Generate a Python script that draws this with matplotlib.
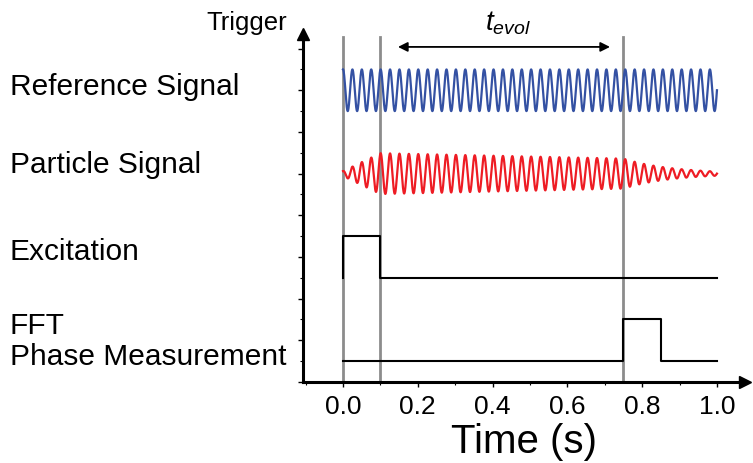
import matplotlib
matplotlib.use("Agg")
import matplotlib.pyplot as plt
import matplotlib.transforms as mtransforms
from matplotlib.ticker import MultipleLocator
import numpy as np

plt.rcParams["font.family"] = ["Liberation Sans", "DejaVu Sans"]
plt.rcParams["mathtext.fontset"] = "custom"
plt.rcParams["mathtext.it"] = "Liberation Sans:italic"
plt.rcParams["mathtext.rm"] = "Liberation Sans"

# timing markers (s)
trigger_times = [0.0, 0.1, 0.75]
evol_start, evol_end = 0.147, 0.714

# reference signal
ref_freq = 39.75
ref_amp = 0.5
ref_level = 7.0

# particle signal: envelope
part_level = 5.0
part_amp_start = 0.06
part_amp_peak = 0.49
part_amp_hold = 0.36
part_tau = 0.127

# excitation and FFT step traces
exc_t = [0.0, 0.0, 0.1, 0.1, 1.0]
exc_y = [2.5, 3.5, 3.5, 2.5, 2.5]
fft_t = [0.0, 0.75, 0.75, 0.85, 0.85, 1.0]
fft_y = [0.5, 0.5, 1.5, 1.5, 0.5, 0.5]

row_labels = ["Reference Signal", "Particle Signal", "Excitation", "FFT", "Phase Measurement"]
row_label_y = [7.07, 5.2, 3.12, 1.35, 0.6]
x_ticks = [0.0, 0.2, 0.4, 0.6, 0.8, 1.0]

t = np.linspace(0, 1, 6000)
carrier = np.cos(2 * np.pi * ref_freq * t)
env = np.where(
    t < 0.1,
    part_amp_start + (part_amp_peak - part_amp_start) * t / 0.1,
    np.where(
        t < 0.75,
        part_amp_peak + (part_amp_hold - part_amp_peak) * (t - 0.1) / 0.65,
        part_amp_hold * np.exp(-(t - 0.75) / part_tau),
    ),
)

fig = plt.figure(figsize=(7.53, 4.63), dpi=100)
ax = fig.add_axes([303 / 753, 81 / 463, (745 - 303) / 753, (382 - 34) / 463])
ax.set_xlim(-0.107, 1.075)
ax.set_ylim(0, 8.35)

for tt in trigger_times:
    ax.plot([tt, tt], [0, 8.28], color="#8c8c8c", lw=2.0, zorder=1)

ax.plot(t, ref_level + ref_amp * carrier, color="#3451a3", lw=1.6, zorder=2)
ax.plot(t, part_level + env * carrier, color="#ee1c24", lw=1.6, zorder=2)
ax.plot(exc_t, exc_y, color="black", lw=1.5, zorder=2)
ax.plot(fft_t, fft_y, color="black", lw=1.5, zorder=2)

ax.annotate("", xy=(evol_start, 8.04), xytext=(evol_end, 8.04),
            arrowprops=dict(arrowstyle="<|-|>", color="black", lw=1.3,
                            mutation_scale=14, shrinkA=0, shrinkB=0))
ax.text((evol_start + evol_end) / 2 + 0.01, 8.44, r"$t_{evol}$", fontsize=20,
        ha="center", va="baseline", clip_on=False)

for s in ["top", "right"]:
    ax.spines[s].set_visible(False)
for s in ["left", "bottom"]:
    ax.spines[s].set_linewidth(2.2)
ax.plot(0, 1, "^k", markersize=9, transform=ax.transAxes, clip_on=False)
ax.plot(1, 0, ">k", markersize=9, transform=ax.transAxes, clip_on=False)

ax.set_xticks(x_ticks)
ax.set_xticklabels([f"{v:.1f}" for v in x_ticks])
ax.xaxis.set_minor_locator(MultipleLocator(0.1))
ax.yaxis.set_major_locator(MultipleLocator(1))
ax.yaxis.set_minor_locator(MultipleLocator(0.5))
ax.set_yticklabels([])
ax.tick_params(which="major", direction="out", length=3.5, width=1, labelsize=19, pad=6)
ax.tick_params(which="minor", direction="out", length=2, width=0.8)
ax.set_xlabel("Time (s)", fontsize=29, labelpad=3)

trans = mtransforms.blended_transform_factory(fig.transFigure, ax.transData)
for label, y in zip(row_labels, row_label_y):
    fig.text(10 / 753, y, label, transform=trans, fontsize=21.5, va="center", ha="left")
fig.text(287 / 753, 1 - 23 / 463, "Trigger", fontsize=18.5, va="center", ha="right")

fig.savefig("out.png", dpi=100)
